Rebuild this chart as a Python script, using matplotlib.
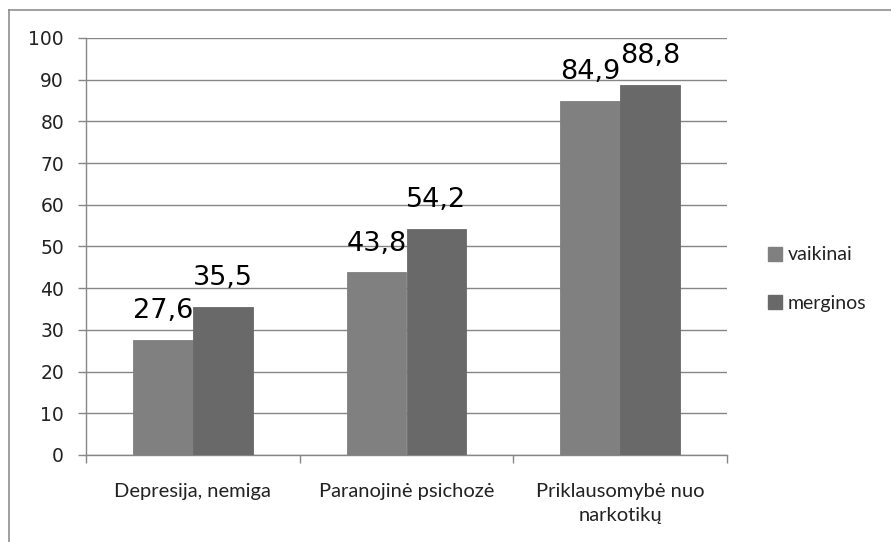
import matplotlib
matplotlib.use("Agg")
import matplotlib.pyplot as plt
from matplotlib.lines import Line2D
import numpy as np

categories = ["Depresija, nemiga", "Paranojinė psichozė", "Priklausomybė nuo\nnarkotikų"]
series_names = ["vaikinai", "merginos"]
vaikinai = [27.6, 43.8, 84.9]
merginos = [35.5, 54.2, 88.8]
yticks = [0, 10, 20, 30, 40, 50, 60, 70, 80, 90, 100]
colors = ["#808080", "#696969"]
grid_color = "#868686"

fig = plt.figure(figsize=(8.91, 5.42), dpi=100)
W, H = 891, 542
ax = fig.add_axes([86 / W, (H - 455) / H, (727 - 86) / W, (455 - 38) / H])

x = np.arange(len(categories))
bw = 0.28
b1 = ax.bar(x - bw / 2, vaikinai, bw, color=colors[0], edgecolor=colors[0], linewidth=0.6,
            label=series_names[0], zorder=3)
b2 = ax.bar(x + bw / 2, merginos, bw, color=colors[1], edgecolor=colors[1], linewidth=0.6,
            label=series_names[1], zorder=4)

lab_font = ["DejaVu Sans"]
for bars, vals in ((b1, vaikinai), (b2, merginos)):
    for r, v in zip(bars, vals):
        ax.annotate(f"{v:.1f}".replace(".", ","), (r.get_x() + r.get_width() / 2, v),
                    xytext=(0, 15.5), textcoords="offset points", ha="center", va="baseline",
                    fontsize=19.5, family=lab_font, color="black")

ax.set_xlim(-0.5, len(categories) - 0.5)
ax.set_ylim(0, 100)
ax.set_yticks(yticks)
ax.set_yticklabels([str(t) for t in yticks], fontsize=13.5, family=["DejaVu Sans"], color="#222222")
ax.yaxis.grid(True, color=grid_color, linewidth=1.0, zorder=0)
ax.tick_params(axis="y", length=5.8, color=grid_color, width=1.0, pad=10)

ax.set_xticks(x)
ax.set_xticklabels(categories, fontsize=14.5, family=["Lato", "DejaVu Sans"],
                   color="#222222", linespacing=1.55)
ax.set_xticks(np.arange(len(categories) + 1) - 0.5, minor=True)
ax.tick_params(axis="x", which="major", length=0, pad=20)
ax.tick_params(axis="x", which="minor", length=6, color=grid_color, width=1.0)

for s in ("top", "right"):
    ax.spines[s].set_visible(False)
for s in ("left", "bottom"):
    ax.spines[s].set_color(grid_color)
    ax.spines[s].set_linewidth(1.0)

handles = [plt.Rectangle((0, 0), 1, 1, color=c) for c in colors]
leg = fig.legend(handles, series_names, loc="center left", bbox_to_anchor=(750 / W, (H - 279) / H),
                 frameon=False, handlelength=0.75, handleheight=0.75, handletextpad=0.3,
                 labelspacing=1.6, prop={"family": ["Lato", "DejaVu Sans"], "size": 14})
for t in leg.get_texts():
    t.set_color("#222222")

# outer chart border (left and top visible)
fig.add_artist(Line2D([9 / W, 9 / W], [0, (H - 10) / H], color=grid_color, linewidth=1.1, transform=fig.transFigure))
fig.add_artist(Line2D([9 / W, 1], [(H - 10) / H, (H - 10) / H], color=grid_color, linewidth=1.1, transform=fig.transFigure))

fig.savefig("out.png", dpi=100)
